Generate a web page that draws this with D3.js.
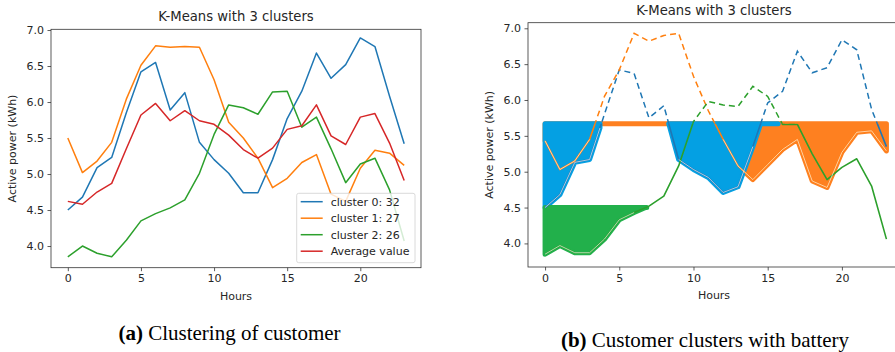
<!DOCTYPE html>
<html>
<head>
<meta charset="utf-8">
<script src="https://cdn.jsdelivr.net/npm/d3@7"></script>
<style>
  body { margin: 0; background: #fff; }
  svg { display: block; }
  text { font-family: "DejaVu Sans", sans-serif; fill: #262626; }
  .caption { font-family: "Liberation Serif", serif; fill: #000; }
</style>
</head>
<body>
<svg id="fig" width="895" height="352"></svg>
<script>
// hours of the day
var hours = [0, 1, 2, 3, 4, 5, 6, 7, 8, 9, 10, 11, 12, 13, 14, 15, 16, 17, 18, 19, 20, 21, 22, 23];
var xTicks = [0, 5, 10, 15, 20];
var yTicks = [4.0, 4.5, 5.0, 5.5, 6.0, 6.5, 7.0];

// (a) cluster profiles
var cluster0 = [4.50, 4.68, 5.09, 5.23, 5.85, 6.42, 6.55, 5.89, 6.13, 5.44, 5.20, 5.01, 4.74, 4.74, 5.20, 5.77, 6.15, 6.68, 6.33, 6.52, 6.89, 6.77, 6.08, 5.42];
var cluster1 = [5.50, 5.02, 5.18, 5.44, 6.04, 6.51, 6.78, 6.76, 6.77, 6.76, 6.31, 5.72, 5.50, 5.22, 4.81, 4.94, 5.16, 5.27, 4.72, 4.62, 5.08, 5.33, 5.29, 5.12];
var cluster2 = [3.85, 4.00, 3.90, 3.85, 4.08, 4.35, 4.45, 4.53, 4.64, 5.01, 5.55, 5.96, 5.92, 5.83, 6.14, 6.15, 5.65, 5.79, 5.35, 4.88, 5.14, 5.22, 4.78, 4.07];
var average = [4.62, 4.58, 4.75, 4.87, 5.35, 5.82, 5.98, 5.74, 5.88, 5.74, 5.69, 5.54, 5.34, 5.22, 5.36, 5.62, 5.67, 5.96, 5.53, 5.41, 5.79, 5.84, 5.43, 4.91];
var legendLabels = ['cluster 0: 32', 'cluster 1: 27', 'cluster 2: 26', 'Average value'];

// (b) clusters with battery
var battery0 = [4.50, 4.68, 5.13, 5.17, 5.80, 6.42, 6.37, 5.75, 5.92, 5.17, 5.03, 4.92, 4.71, 4.79, 5.35, 5.96, 6.12, 6.68, 6.38, 6.45, 6.84, 6.70, 5.87, 5.35];
var battery1 = [5.43, 5.03, 5.15, 5.45, 6.05, 6.42, 6.93, 6.82, 6.90, 6.93, 6.33, 5.85, 5.45, 5.08, 4.89, 5.10, 5.31, 5.45, 4.87, 4.78, 5.27, 5.55, 5.57, 5.29];
var battery2 = [3.85, 3.97, 3.87, 3.87, 4.06, 4.33, 4.43, 4.52, 4.66, 5.08, 5.70, 5.98, 5.93, 5.91, 6.19, 6.05, 5.66, 5.66, 5.25, 4.89, 5.06, 5.18, 4.80, 4.06];
var peakLimit = 5.67;      // upper battery level (clusters 0 and 1)
var baseLimit = 4.5;       // battery level for cluster 2
var windows0 = [[0, 3.7], [8.33, 15.7]];
var windows1 = [[0, 23]];
var windows2 = [[0, 6.85]];

var lineColors = ['#1f77b4', '#ff7f0e', '#2ca02c', '#d62728'];
var fillColors = ['#04a0e3', '#fe8020', '#22b04b'];

var svg = d3.select('#fig');

// linear value of a series at fractional hour
function valueAt(series, h) {
  var i = Math.max(0, Math.min(series.length - 2, Math.floor(h)));
  var t = h - hours[i];
  return series[i] + (series[i + 1] - series[i]) * t;
}

// points of a series between a and b, capped at level
function cappedPoints(series, a, b, level) {
  var xs = [a, b];
  hours.forEach(function(h, i) {
    if (h > a && h < b) xs.push(h);
    if (i < hours.length - 1) {
      var v0 = series[i], v1 = series[i + 1];
      if ((v0 - level) * (v1 - level) < 0) {
        var c = h + (level - v0) / (v1 - v0);
        if (c > a && c < b) xs.push(c);
      }
    }
  });
  xs.sort(function(p, q) { return p - q; });
  return xs.map(function(h) { return [h, Math.min(valueAt(series, h), level)]; });
}

function drawPanel(g, opts) {
  var x = d3.scaleLinear().domain([-1.15, 24.15]).range([opts.left, opts.right]);
  var y = d3.scaleLinear().domain(opts.yDomain).range([opts.bottom, opts.top]);

  g.append('g')
    .attr('transform', 'translate(0,' + opts.bottom + ')')
    .call(d3.axisBottom(x).tickValues(xTicks).tickFormat(d3.format('d'))
      .tickSize(3.5).tickPadding(3.5).tickSizeOuter(0))
    .call(styleAxis);
  g.append('g')
    .attr('transform', 'translate(' + opts.left + ',0)')
    .call(d3.axisLeft(y).tickValues(yTicks).tickFormat(d3.format('.1f'))
      .tickSize(3.5).tickPadding(3.5).tickSizeOuter(0))
    .call(styleAxis);

  g.append('text')
    .attr('class', 'title')
    .attr('x', opts.titleX)
    .attr('y', opts.titleY)
    .attr('text-anchor', 'middle')
    .style('font-size', '13.2px')
    .text('K-Means with 3 clusters');
  g.append('text')
    .attr('x', opts.titleX)
    .attr('y', opts.bottom + 32)
    .attr('text-anchor', 'middle')
    .style('font-size', '11px')
    .text('Hours');
  g.append('text')
    .attr('transform', 'translate(' + (opts.left - 35) + ',' + ((opts.top + opts.bottom) / 2) + ') rotate(-90)')
    .attr('text-anchor', 'middle')
    .style('font-size', '11px')
    .text('Active power (kWh)');

  return { x: x, y: y };
}

function styleAxis(sel) {
  sel.select('.domain').remove();
  sel.selectAll('line').attr('stroke', '#333').attr('stroke-width', 0.8);
  sel.selectAll('text').style('font-size', '11px').attr('fill', '#262626');
}

function frame(g, opts) {
  g.append('rect')
    .attr('x', opts.left).attr('y', opts.top)
    .attr('width', opts.right - opts.left).attr('height', opts.bottom - opts.top)
    .attr('fill', 'none').attr('stroke', '#333').attr('stroke-width', 0.8);
}

// ---------- (a) ----------
var optsA = { left: 51, right: 421, top: 29.3, bottom: 267.7, yDomain: [3.699, 7.01], titleX: 236, titleY: 20.5 };
var gA = svg.append('g');
var sA = drawPanel(gA, optsA);

var seriesA = [cluster0, cluster1, cluster2, average];
var lineA = d3.line()
  .x(function(d, i) { return sA.x(hours[i]); })
  .y(function(d) { return sA.y(d); });
seriesA.forEach(function(s, k) {
  gA.append('path')
    .attr('d', lineA(s))
    .attr('fill', 'none')
    .attr('stroke', lineColors[k])
    .attr('stroke-width', 1.5)
    .attr('stroke-linejoin', 'round');
});

// legend
var legend = gA.append('g').attr('transform', 'translate(296.7,193.3)');
legend.append('rect')
  .attr('width', 118.3).attr('height', 69.4).attr('rx', 2)
  .attr('fill', 'white').attr('fill-opacity', 0.8)
  .attr('stroke', '#d0d0d0').attr('stroke-width', 0.8);
legendLabels.forEach(function(lbl, k) {
  var ly = 8.4 + k * 16.5;
  legend.append('line')
    .attr('x1', 4).attr('x2', 26).attr('y1', ly).attr('y2', ly)
    .attr('stroke', lineColors[k]).attr('stroke-width', 1.5);
  legend.append('text')
    .attr('x', 34).attr('y', ly + 4)
    .style('font-size', '11px')
    .text(lbl);
});
frame(gA, optsA);

// ---------- (b) ----------
var optsB = { left: 528, right: 903.5, top: 22.7, bottom: 267, yDomain: [3.671, 7.078], titleX: 714, titleY: 14.5 };
var gB = svg.append('g');
var sB = drawPanel(gB, optsB);

var seriesB = [battery0, battery1, battery2];
var limits = [peakLimit, peakLimit, baseLimit];
var windowsB = [windows0, windows1, windows2];

// clip regions above and below the battery level
var defs = svg.append('defs');
var yLim = sB.y(peakLimit);
defs.append('clipPath').attr('id', 'above')
  .append('rect').attr('x', optsB.left).attr('y', optsB.top)
  .attr('width', optsB.right - optsB.left).attr('height', yLim - optsB.top);
defs.append('clipPath').attr('id', 'below')
  .append('rect').attr('x', optsB.left).attr('y', yLim)
  .attr('width', optsB.right - optsB.left).attr('height', optsB.bottom - yLim);

var area = d3.area()
  .x(function(d) { return sB.x(d[0]); })
  .y1(function(d) { return sB.y(d[1]); });

// battery fills: orange first, then blue, then green on top
[1, 0, 2].forEach(function(k) {
  windowsB[k].forEach(function(w) {
    var pts = cappedPoints(seriesB[k], w[0], w[1], limits[k]);
    area.y0(sB.y(limits[k]));
    gB.append('path')
      .attr('d', area(pts))
      .attr('fill', fillColors[k])
      .attr('stroke', fillColors[k])
      .attr('stroke-width', 5)
      .attr('stroke-linejoin', 'round')
      .attr('stroke-linecap', 'round');
  });
});

var lineB = d3.line()
  .x(function(d, i) { return sB.x(hours[i]); })
  .y(function(d) { return sB.y(d); });

seriesB.forEach(function(s, k) {
  gB.append('path')
    .attr('d', lineB(s))
    .attr('clip-path', 'url(#above)')
    .attr('fill', 'none')
    .attr('stroke', lineColors[k])
    .attr('stroke-width', 1.5)
    .attr('stroke-dasharray', '6,4');
  gB.append('path')
    .attr('d', lineB(s))
    .attr('clip-path', 'url(#below)')
    .attr('fill', 'none')
    .attr('stroke', lineColors[k])
    .attr('stroke-width', 1.6)
    .attr('stroke-linejoin', 'round');
});

// thin white line along the lower edge of each fill (only where it is below the level)
var edge = d3.line()
  .defined(function(d) { return d[1] < d[2] - 0.03; })
  .x(function(d) { return sB.x(d[0]); })
  .y(function(d) { return sB.y(d[1]); });
seriesB.forEach(function(s, k) {
  windowsB[k].forEach(function(w) {
    var pts = cappedPoints(s, w[0], w[1], limits[k]).map(function(d) {
      return [d[0], d[1], limits[k]];
    });
    gB.append('path')
      .attr('d', edge(pts))
      .attr('fill', 'none')
      .attr('stroke', 'white')
      .attr('stroke-width', 0.7)
      .attr('stroke-opacity', 0.9);
  });
});
frame(gB, optsB);

// captions
var capA = svg.append('text').attr('class', 'caption')
  .attr('x', 229.5).attr('y', 340).attr('text-anchor', 'middle').style('font-size', '21px');
capA.append('tspan').style('font-weight', 'bold').text('(a)');
capA.append('tspan').text(' Clustering of customer');
var capB = svg.append('text').attr('class', 'caption')
  .attr('x', 705).attr('y', 346.5).attr('text-anchor', 'middle').style('font-size', '21px');
capB.append('tspan').style('font-weight', 'bold').text('(b)');
capB.append('tspan').text(' Customer clusters with battery');
</script>
</body>
</html>
